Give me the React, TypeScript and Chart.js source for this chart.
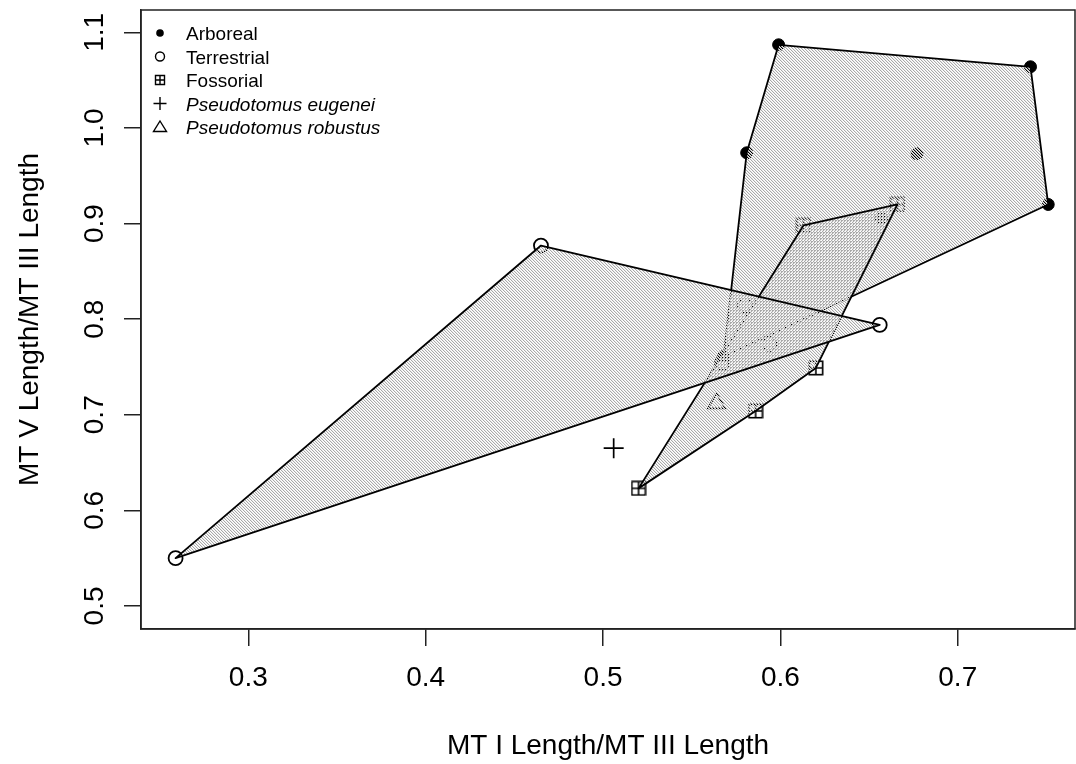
import React, { useEffect, useRef } from 'react';
import { Chart, registerables } from 'chart.js';

Chart.register(...registerables);

// Specimen ratios by locomotor group
const arborealX = [0.599, 0.741, 0.751, 0.581, 0.677, 0.657, 0.568];
const arborealY = [1.087, 1.064, 0.920, 0.974, 0.973, 0.905, 0.761];
const terrestrialX = [0.259, 0.465, 0.656, 0.580, 0.594, 0.567];
const terrestrialY = [0.550, 0.877, 0.794, 0.814, 0.774, 0.754];
const fossorialX = [0.520, 0.586, 0.620, 0.666, 0.613];
const fossorialY = [0.623, 0.704, 0.749, 0.920, 0.898];
const eugeneiX = [0.506];
const eugeneiY = [0.665];
const robustusX = [0.564];
const robustusY = [0.712];

const xTicks = [0.3, 0.4, 0.5, 0.6, 0.7];
const yTicks = [0.5, 0.6, 0.7, 0.8, 0.9, 1.0, 1.1];
const xRange = [0.2395, 0.7661];
const yRange = [0.4759, 1.1234];
const xTitle = 'MT I Length/MT III Length';
const yTitle = 'MT V Length/MT III Length';
const legendLabels = ['Arboreal', 'Terrestrial', 'Fossorial', 'Pseudotomus eugenei', 'Pseudotomus robustus'];
const legendItalic = [false, false, false, true, true];

const FONT = '"Liberation Sans", Arial, Helvetica, sans-serif';
const HATCH_DARK = '#a9a9a9';
const HATCH_SOFT = '#ebebeb';
const AXIS = '#222222';
const AXIS_FONT = 28;

const pts = (xs: number[], ys: number[]) => xs.map((v, i) => ({ x: v, y: ys[i] }));

// 3px diagonal hatch tile: one solid line, one soft edge, one clear
function stripeTile(dir: 'back' | 'fwd') {
  const n = 3;
  const c = document.createElement('canvas');
  c.width = n;
  c.height = n;
  const g = c.getContext('2d')!;
  for (let y = 0; y < n; y++) {
    for (let x = 0; x < n; x++) {
      const k = dir === 'back' ? (((x - y) % n) + n) % n : (x + y) % n;
      if (k === 0) {
        g.fillStyle = HATCH_DARK;
        g.fillRect(x, y, 1, 1);
      } else if (k === 1) {
        g.fillStyle = HATCH_SOFT;
        g.fillRect(x, y, 1, 1);
      }
    }
  }
  return c;
}

function boxPlusMarker(size: number, lw: number) {
  const c = document.createElement('canvas');
  c.width = size;
  c.height = size;
  const g = c.getContext('2d')!;
  g.strokeStyle = '#000';
  g.lineWidth = lw;
  const o = lw / 2 + 0.5;
  g.strokeRect(o, o, size - 2 * o, size - 2 * o);
  g.beginPath();
  g.moveTo(size / 2, o);
  g.lineTo(size / 2, size - o);
  g.moveTo(o, size / 2);
  g.lineTo(size - o, size / 2);
  g.stroke();
  return c;
}

type P = { x: number; y: number };
function convexHull(points: P[]): P[] {
  const p = [...points].sort((a, b) => a.x - b.x || a.y - b.y);
  const cross = (o: P, a: P, b: P) => (a.x - o.x) * (b.y - o.y) - (a.y - o.y) * (b.x - o.x);
  const lower: P[] = [];
  for (const q of p) {
    while (lower.length >= 2 && cross(lower[lower.length - 2], lower[lower.length - 1], q) <= 0) lower.pop();
    lower.push(q);
  }
  const upper: P[] = [];
  for (let i = p.length - 1; i >= 0; i--) {
    const q = p[i];
    while (upper.length >= 2 && cross(upper[upper.length - 2], upper[upper.length - 1], q) <= 0) upper.pop();
    upper.push(q);
  }
  upper.pop();
  lower.pop();
  return lower.concat(upper);
}

const hullPlugin = {
  id: 'hulls',
  afterDatasetsDraw(chart: any) {
    const { ctx, scales } = chart;
    const sx = scales.x;
    const sy = scales.y;
    const back = ctx.createPattern(stripeTile('back'), 'repeat');
    const fwd = ctx.createPattern(stripeTile('fwd'), 'repeat');
    const groups: [number[], number[]][] = [
      [arborealX, arborealY],
      [fossorialX, fossorialY],
      [terrestrialX, terrestrialY],
    ];
    const paths = groups.map(([gx, gy]) => {
      const hull = convexHull(gx.map((v, i) => ({ x: sx.getPixelForValue(v), y: sy.getPixelForValue(gy[i]) })));
      const path = new Path2D();
      hull.forEach((q, i) => (i ? path.lineTo(q.x, q.y) : path.moveTo(q.x, q.y)));
      path.closePath();
      return path;
    });
    ctx.save();
    paths.forEach((path, k) => {
      ctx.fillStyle = back;
      ctx.fill(path);
      for (let j = 0; j < k; j++) {
        ctx.save();
        ctx.clip(paths[j]);
        ctx.clip(path);
        ctx.fillStyle = fwd;
        ctx.fill(path);
        ctx.restore();
      }
      ctx.lineWidth = 1.8;
      ctx.lineJoin = 'round';
      ctx.strokeStyle = '#000';
      ctx.stroke(path);
    });
    ctx.restore();
  },
  afterDraw(chart: any) {
    const { ctx, chartArea, scales } = chart;
    const sy = scales.y;
    ctx.save();
    // frame around the plotting region
    ctx.strokeStyle = AXIS;
    ctx.lineWidth = 1.5;
    ctx.strokeRect(chartArea.left, chartArea.top, chartArea.right - chartArea.left, chartArea.bottom - chartArea.top);

    // rotated y tick labels
    ctx.fillStyle = '#000';
    ctx.font = `${AXIS_FONT}px ${FONT}`;
    ctx.textAlign = 'center';
    ctx.textBaseline = 'alphabetic';
    yTicks.forEach((v) => {
      const py = sy.getPixelForValue(v);
      ctx.save();
      ctx.translate(103, py);
      ctx.rotate(-Math.PI / 2);
      ctx.fillText(v.toFixed(1), 0, 0);
      ctx.restore();
    });

    // legend in the top-left corner
    const mx = 160;
    const tx = 186;
    const y0 = 33;
    const dy = 23.5;
    ctx.strokeStyle = '#000';
    ctx.fillStyle = '#000';
    ctx.lineWidth = 1.4;
    legendLabels.forEach((label, i) => {
      const cy = y0 + i * dy;
      ctx.beginPath();
      if (i === 0) {
        ctx.arc(mx, cy, 3.8, 0, Math.PI * 2);
        ctx.fill();
      } else if (i === 1) {
        ctx.arc(mx, cy, 4.5, 0, Math.PI * 2);
        ctx.stroke();
      } else if (i === 2) {
        ctx.rect(mx - 4.5, cy - 4.5, 9, 9);
        ctx.moveTo(mx, cy - 4.5);
        ctx.lineTo(mx, cy + 4.5);
        ctx.moveTo(mx - 4.5, cy);
        ctx.lineTo(mx + 4.5, cy);
        ctx.stroke();
      } else if (i === 3) {
        ctx.moveTo(mx - 6.5, cy);
        ctx.lineTo(mx + 6.5, cy);
        ctx.moveTo(mx, cy - 6.5);
        ctx.lineTo(mx, cy + 6.5);
        ctx.stroke();
      } else {
        ctx.moveTo(mx, cy - 6);
        ctx.lineTo(mx + 6.5, cy + 4.5);
        ctx.lineTo(mx - 6.5, cy + 4.5);
        ctx.closePath();
        ctx.stroke();
      }
      ctx.font = `${legendItalic[i] ? 'italic ' : ''}19px ${FONT}`;
      ctx.textAlign = 'left';
      ctx.textBaseline = 'alphabetic';
      ctx.fillText(label, tx, cy + 7);
    });
    ctx.restore();
  },
};

export default function App() {
  const ref = useRef<HTMLCanvasElement | null>(null);

  useEffect(() => {
    if (!ref.current) return;
    const fossorialStyle = boxPlusMarker(16, 1.6);
    const chart = new Chart(ref.current, {
      type: 'scatter',
      data: {
        datasets: [
          {
            label: legendLabels[0],
            data: pts(arborealX, arborealY),
            pointStyle: 'circle',
            pointRadius: 6,
            backgroundColor: '#000',
            borderColor: '#000',
            borderWidth: 1,
          },
          {
            label: legendLabels[1],
            data: pts(terrestrialX, terrestrialY),
            pointStyle: 'circle',
            pointRadius: 7,
            backgroundColor: 'rgba(0,0,0,0)',
            borderColor: '#000',
            borderWidth: 1.8,
          },
          {
            label: legendLabels[2],
            data: pts(fossorialX, fossorialY),
            pointStyle: fossorialStyle as any,
            pointRadius: 8,
            backgroundColor: 'rgba(0,0,0,0)',
            borderColor: '#000',
          },
          {
            label: legendLabels[3],
            data: pts(eugeneiX, eugeneiY),
            pointStyle: 'cross',
            pointRadius: 10,
            borderColor: '#000',
            borderWidth: 1.7,
          },
          {
            label: legendLabels[4],
            data: pts(robustusX, robustusY),
            pointStyle: 'triangle',
            pointRadius: 10,
            backgroundColor: 'rgba(0,0,0,0)',
            borderColor: '#000',
            borderWidth: 1.7,
          },
        ],
      },
      options: {
        animation: false,
        responsive: false,
        devicePixelRatio: 1,
        events: [],
        layout: { autoPadding: false, padding: { top: 10, right: 1, left: 0, bottom: 0 } },
        plugins: { legend: { display: false }, tooltip: { enabled: false } },
        scales: {
          x: {
            type: 'linear',
            min: xRange[0],
            max: xRange[1],
            afterBuildTicks: (s: any) => {
              s.ticks = xTicks.map((v) => ({ value: v }));
            },
            afterFit: (s: any) => {
              s.height = 135;
              s.paddingLeft = 0;
              s.paddingRight = 0;
            },
            ticks: {
              autoSkip: false,
              maxRotation: 0,
              padding: 15,
              color: '#000',
              font: { family: FONT, size: AXIS_FONT },
              callback: (v: any) => Number(v).toFixed(1),
            },
            grid: { drawOnChartArea: false, tickLength: 17, color: AXIS, lineWidth: 1.5 },
            border: { display: true, color: AXIS, width: 1.5 },
            title: {
              display: true,
              text: xTitle,
              color: '#000',
              font: { family: FONT, size: AXIS_FONT },
              padding: { top: 0, bottom: 1 },
            },
          },
          y: {
            type: 'linear',
            min: yRange[0],
            max: yRange[1],
            afterBuildTicks: (s: any) => {
              s.ticks = yTicks.map((v) => ({ value: v }));
            },
            afterFit: (s: any) => {
              s.width = 141;
              s.paddingTop = 0;
              s.paddingBottom = 0;
            },
            ticks: { display: false },
            grid: { drawOnChartArea: false, tickLength: 17, color: AXIS, lineWidth: 1.5 },
            border: { display: true, color: AXIS, width: 1.5 },
            title: {
              display: true,
              text: yTitle,
              color: '#000',
              font: { family: FONT, size: AXIS_FONT },
              padding: { top: 13, bottom: 0 },
            },
          },
        },
      },
      plugins: [hullPlugin],
    });
    return () => chart.destroy();
  }, []);

  return (
    <div style={{ position: 'fixed', left: 0, top: 0, width: 1076, height: 764, background: '#fff' }}>
      <canvas ref={ref} width={1076} height={764} />
    </div>
  );
}
